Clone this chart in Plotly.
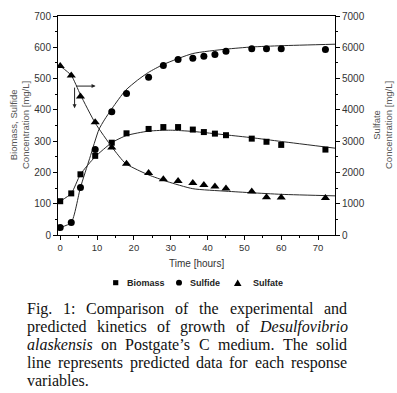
import plotly.graph_objects as go

# ---------------- data ----------------
t_obs = [0, 3, 5.5, 9.5, 14, 18, 24, 28, 32, 36, 39, 42, 45, 52, 56, 60, 72]
biomass_obs = [108, 133, 194, 253, 295, 325, 339, 345, 345, 337, 329, 324, 319, 308, 298, 288, 273]
sulfide_obs = [24, 40, 152, 273, 394, 452, 504, 542, 561, 565, 571, 577, 587, 595, 595, 595, 593]
sulfate_obs = [5400, 5100, 4430, 3600, 2800, 2280, 1980, 1780, 1730, 1660, 1600, 1550, 1490, 1390, 1210, 1200, 1180]

t_bio_fit = [0, 3, 5.5, 9.5, 14, 18, 24, 30, 36, 45, 52, 60, 75]
biomass_fit = [108, 133, 194, 250, 295, 318, 332, 335, 331, 320, 311, 299, 277]

t_sfd_fit = [0, 3, 5.5, 8, 10.5, 12, 14.1, 17.7, 21, 24, 28, 36, 45, 52, 60, 75]
sulfide_fit = [24, 40, 152, 245, 337, 368, 405, 462, 495, 520, 545, 580, 594, 601, 605, 610]

t_sft_fit = [0, 3, 5.5, 9.5, 14.1, 17.7, 21, 24, 29, 36, 45, 52, 60, 75]
sulfate_fit = [5400, 5100, 4480, 3580, 2800, 2290, 2080, 1920, 1710, 1480, 1400, 1350, 1300, 1250]

x_ticks = [0, 10, 20, 30, 40, 50, 60, 70]
y_left_ticks = [0, 100, 200, 300, 400, 500, 600, 700]
y_right_ticks = [0, 1000, 2000, 3000, 4000, 5000, 6000, 7000]

legend_names = ["Biomass", "Sulfide", "Sulfate"]
x_title = "Time [hours]"
y_left_title = "Biomass, Sulfide<br>Concentration [mg/L]"
y_right_title = "Sulfate<br>Concentration [mg/L]"

caption_lines = [
    [("Fig.", 0), ("1:", 0), ("Comparison", 0), ("of", 0), ("the", 0), ("experimental", 0), ("and", 0)],
    [("predicted", 0), ("kinetics", 0), ("of", 0), ("growth", 0), ("of", 0), ("Desulfovibrio", 1)],
    [("alaskensis", 1), ("on", 0), ("Postgate\u2019s", 0), ("C", 0), ("medium.", 0), ("The", 0), ("solid", 0)],
    [("line", 0), ("represents", 0), ("predicted", 0), ("data", 0), ("for", 0), ("each", 0), ("response", 0)],
    [("variables.", 0)],
]

# ---------------- layout helpers ----------------
W, H = 397, 393
L, R, T, B = 58, 335, 10, 235


def pxx(px):
    return (px - L) / (R - L)


def pxy(py):
    return (B - py) / (B - T)


LINE = "#2a2a2a"
TXT = "#333333"
SANS = "Liberation Sans, Arial, sans-serif"
SERIF = "Liberation Serif, Times New Roman, serif"

fig = go.Figure()

# fitted curves
fig.add_trace(go.Scatter(x=t_bio_fit, y=biomass_fit, mode="lines", line=dict(color=LINE, width=1, shape="spline", smoothing=0.6),
                         showlegend=False, hoverinfo="skip"))
fig.add_trace(go.Scatter(x=t_sfd_fit, y=sulfide_fit, mode="lines", line=dict(color=LINE, width=1, shape="spline", smoothing=0.6),
                         showlegend=False, hoverinfo="skip"))
fig.add_trace(go.Scatter(x=t_sft_fit, y=sulfate_fit, mode="lines", yaxis="y2",
                         line=dict(color=LINE, width=1, shape="spline", smoothing=0.6),
                         showlegend=False, hoverinfo="skip"))

# observations
fig.add_trace(go.Scatter(x=t_obs, y=biomass_obs, mode="markers", name=legend_names[0],
                         marker=dict(symbol="square", size=6, color="black"), showlegend=False))
fig.add_trace(go.Scatter(x=t_obs, y=sulfide_obs, mode="markers", name=legend_names[1],
                         marker=dict(symbol="circle", size=7, color="black"), showlegend=False))
fig.add_trace(go.Scatter(x=t_obs, y=sulfate_obs, mode="markers", name=legend_names[2], yaxis="y2",
                         marker=dict(symbol="triangle-up", size=8, color="black"), showlegend=False))

axis_common = dict(showgrid=False, zeroline=False, showline=True, linecolor="black", linewidth=1,
                   ticks="outside", ticklen=4, tickwidth=1, tickcolor="black",
                   tickfont=dict(family=SANS, size=10, color=TXT))

fig.update_layout(
    width=W, height=H,
    margin=dict(l=L, r=W - R, t=T, b=H - B),
    paper_bgcolor="white", plot_bgcolor="white",
    showlegend=False,
    xaxis=dict(range=[-0.6, 74.6], tickvals=x_ticks, mirror=True,
               minor=dict(dtick=5, tick0=0, ticks="outside", ticklen=2, tickcolor="black"),
               **{**axis_common, "tickfont": dict(family=SANS, size=9.5, color=TXT)}),
    yaxis=dict(range=[0, 700], tickvals=y_left_ticks,
               minor=dict(dtick=50, tick0=0, ticks="outside", ticklen=2, tickcolor="black"),
               **axis_common),
    yaxis2=dict(range=[0, 7000], tickvals=y_right_ticks, overlaying="y", side="right",
                minor=dict(dtick=500, tick0=0, ticks="outside", ticklen=2, tickcolor="black"),
                **axis_common),
)

ann = []
# axis titles
ann.append(dict(x=pxx(196.5), y=pxy(264), xref="paper", yref="paper", text=x_title, showarrow=False,
                font=dict(family=SANS, size=10, color=TXT), xanchor="center", yanchor="middle"))
ann.append(dict(x=pxx(19), y=pxy(122), xref="paper", yref="paper", text=y_left_title, showarrow=False,
                textangle=-90, font=dict(family=SANS, size=9.5, color="#555555"), xanchor="center", yanchor="middle"))
ann.append(dict(x=pxx(382), y=pxy(122), xref="paper", yref="paper", text=y_right_title, showarrow=False,
                textangle=-90, font=dict(family=SANS, size=9.5, color="#555555"), xanchor="center", yanchor="middle"))

# axis-indicator arrows
ann.append(dict(x=3.9, y=405, ax=3.9, ay=476, xref="x", yref="y", axref="x", ayref="y", text="",
                showarrow=True, arrowhead=2, arrowsize=0.8, arrowwidth=1, arrowcolor="#222"))
ann.append(dict(x=9.6, y=476, ax=3.9, ay=476, xref="x", yref="y", axref="x", ayref="y", text="",
                showarrow=True, arrowhead=2, arrowsize=0.8, arrowwidth=1, arrowcolor="#222"))

# legend (text)
leg_y = 284
for name, xs in zip(legend_names, [125, 187.5, 250.5]):
    ann.append(dict(x=pxx(xs), y=pxy(leg_y), xref="paper", yref="paper", text="<b>%s</b>" % name, showarrow=False,
                    font=dict(family=SANS, size=9, color="#222"), xanchor="left", yanchor="middle"))

# legend symbols (shapes)
shapes = []
sq = (115.7, leg_y)
shapes.append(dict(type="rect", xref="paper", yref="paper", x0=pxx(sq[0] - 2.6), x1=pxx(sq[0] + 2.6),
                   y0=pxy(sq[1] + 2.6), y1=pxy(sq[1] - 2.6), fillcolor="black", line=dict(width=0)))
ci = (179, leg_y)
shapes.append(dict(type="circle", xref="paper", yref="paper", x0=pxx(ci[0] - 3), x1=pxx(ci[0] + 3),
                   y0=pxy(ci[1] + 3), y1=pxy(ci[1] - 3), fillcolor="black", line=dict(width=0)))
tr = (237.7, leg_y + 0.5)
shapes.append(dict(type="path", xref="paper", yref="paper",
                   path="M %f %f L %f %f L %f %f Z" % (pxx(tr[0] - 3.8), pxy(tr[1] + 3), pxx(tr[0] + 3.8), pxy(tr[1] + 3),
                                                       pxx(tr[0]), pxy(tr[1] - 3.8)),
                   fillcolor="black", line=dict(width=0)))

# ---------------- caption (justified, word by word) ----------------
UP = dict(zip("abcdefghijklmnopqrstuvwxyz",
              [444, 500, 444, 500, 444, 333, 500, 500, 278, 278, 500, 278, 778, 500, 500, 500, 500, 333, 389, 278, 500,
               500, 722, 500, 500, 444]))
UP.update({"F": 556, "C": 667, "P": 556, "T": 611, "D": 722, ".": 250, ":": 278, "1": 500, "\u2019": 333})
IT = dict(zip("abcdefghijklmnopqrstuvwxyz",
              [500, 500, 444, 500, 444, 278, 500, 500, 278, 278, 444, 278, 722, 500, 500, 500, 500, 389, 389, 278, 500,
               444, 667, 444, 444, 389]))
IT.update({"D": 722})

CAP_SIZE = 16
cap_x0, cap_x1 = 27, 347
cap_ys = [311, 329.5, 348, 366.5, 385]


def wwidth(word, it):
    tab = IT if it else UP
    return sum(tab.get(c, 500) for c in word) / 1000.0 * CAP_SIZE


for li, (words, yc) in enumerate(zip(caption_lines, cap_ys)):
    widths = [wwidth(w, it) for w, it in words]
    if li < len(caption_lines) - 1 and len(words) > 1:
        gap = (cap_x1 - cap_x0 - sum(widths)) / (len(words) - 1)
    else:
        gap = 0.25 * CAP_SIZE
    x = cap_x0
    for (w, it), ww in zip(words, widths):
        txt = "<i>%s</i>" % w if it else w
        ann.append(dict(x=pxx(x - 1), y=pxy(yc), xref="paper", yref="paper", text=txt, showarrow=False,
                        font=dict(family=SERIF, size=CAP_SIZE, color="#111"), xanchor="left", yanchor="middle",
                        borderpad=0))
        x += ww + gap

fig.update_layout(annotations=ann, shapes=shapes)

fig.write_html("out.html", config={"displayModeBar": False},
               post_script="document.body.style.margin='0';document.body.style.padding='0';")
